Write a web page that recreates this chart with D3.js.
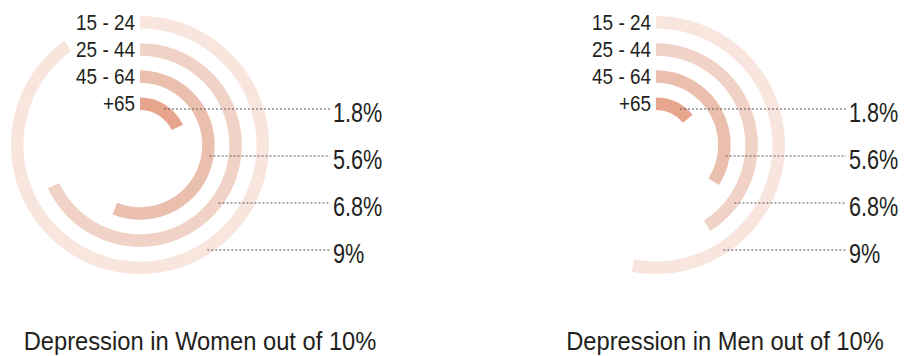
<!DOCTYPE html>
<html>

<head>
    <title>Depression by age</title>
    <meta charset="UTF-8">
    <script src="https://d3js.org/d3.v7.min.js"></script>
    <style type="text/css">
        body { margin: 0; background: #fff; }
        text { font-family: "Liberation Sans", Arial, sans-serif; fill: #231f20; }
    </style>
</head>

<body>
    <script type="text/javascript">
        // Data (percent out of 10)
        var ageGroups = ["15 - 24", "25 - 44", "45 - 64", "+65"];
        var womenValues = [9, 6.8, 5.6, 1.8];
        var menValues = [5.3, 4.1, 3.4, 1.4];
        var percentLabels = ["1.8%", "5.6%", "6.8%", "9%"];
        var chartTitles = ["Depression in Women out of 10%", "Depression in Men out of 10%"];
        var maxValue = 10;

        var ringColors = ["#f7e5de", "#f1d2c6", "#ebbfad", "#e7a58e"];

        var width = 908, height = 356;

        var svg = d3.select("body")
            .append("svg")
            .attr("width", width)
            .attr("height", height);

        // Angle and radius scales shared by both charts
        var angle = d3.scaleLinear().domain([0, maxValue]).range([0, 2 * Math.PI]);
        var radius = d3.scaleBand()
            .domain(ageGroups.slice().reverse())
            .range([35, 129])
            .paddingInner(0.54);
        var color = d3.scaleOrdinal().domain(ageGroups).range(ringColors);

        var arc = d3.arc()
            .innerRadius(function (d) { return radius(d.age); })
            .outerRadius(function (d) { return radius(d.age) + radius.bandwidth(); })
            .startAngle(0)
            .endAngle(function (d) { return angle(d.value); });

        function midRadius(age) {
            return radius(age) + radius.bandwidth() / 2;
        }

        // Draw one radial bar chart centred on cx, cy
        function drawChart(values, title, cx, cy, titleX) {
            var data = ageGroups.map(function (a, i) { return { age: a, value: values[i] }; });
            var g = svg.append("g").attr("transform", "translate(" + cx + "," + cy + ")");

            g.selectAll("path.ring")
                .data(data)
                .enter()
                .append("path")
                .attr("class", "ring")
                .attr("d", arc)
                .style("fill", function (d) { return color(d.age); });

            // age labels to the left of each ring start
            g.selectAll("text.age")
                .data(ageGroups)
                .enter()
                .append("text")
                .attr("class", "age")
                .attr("transform", function (d) {
                    return "translate(-5," + (-midRadius(d) + 7.5) + ") scale(0.88,1)";
                })
                .style("text-anchor", "end")
                .style("font-size", "21.5px")
                .text(function (d) { return d; });

            // dotted leaders and percent labels
            percentLabels.forEach(function (lab, i) {
                var age = ageGroups[ageGroups.length - 1 - i];
                var ly = -36 + i * 47;
                var r = midRadius(age) + 2;
                var x0 = Math.sqrt(Math.max(r * r - ly * ly, 0));

                g.append("line")
                    .attr("x1", x0)
                    .attr("x2", 190)
                    .attr("y1", ly)
                    .attr("y2", ly)
                    .style("stroke", "#555")
                    .style("stroke-width", 1)
                    .style("stroke-dasharray", "2,2");

                g.append("text")
                    .attr("transform", "translate(193," + (ly + 12.5) + ") scale(0.76,1)")
                    .style("font-size", "28.5px")
                    .text(lab);
            });

            svg.append("text")
                .attr("transform", "translate(" + titleX + ",350) scale(0.93,1)")
                .style("text-anchor", "middle")
                .style("font-size", "25.5px")
                .text(title);
        }

        drawChart(womenValues, chartTitles[0], 140, 145, 200);
        drawChart(menValues, chartTitles[1], 656, 145, 725);
    </script>
</body>

</html>
